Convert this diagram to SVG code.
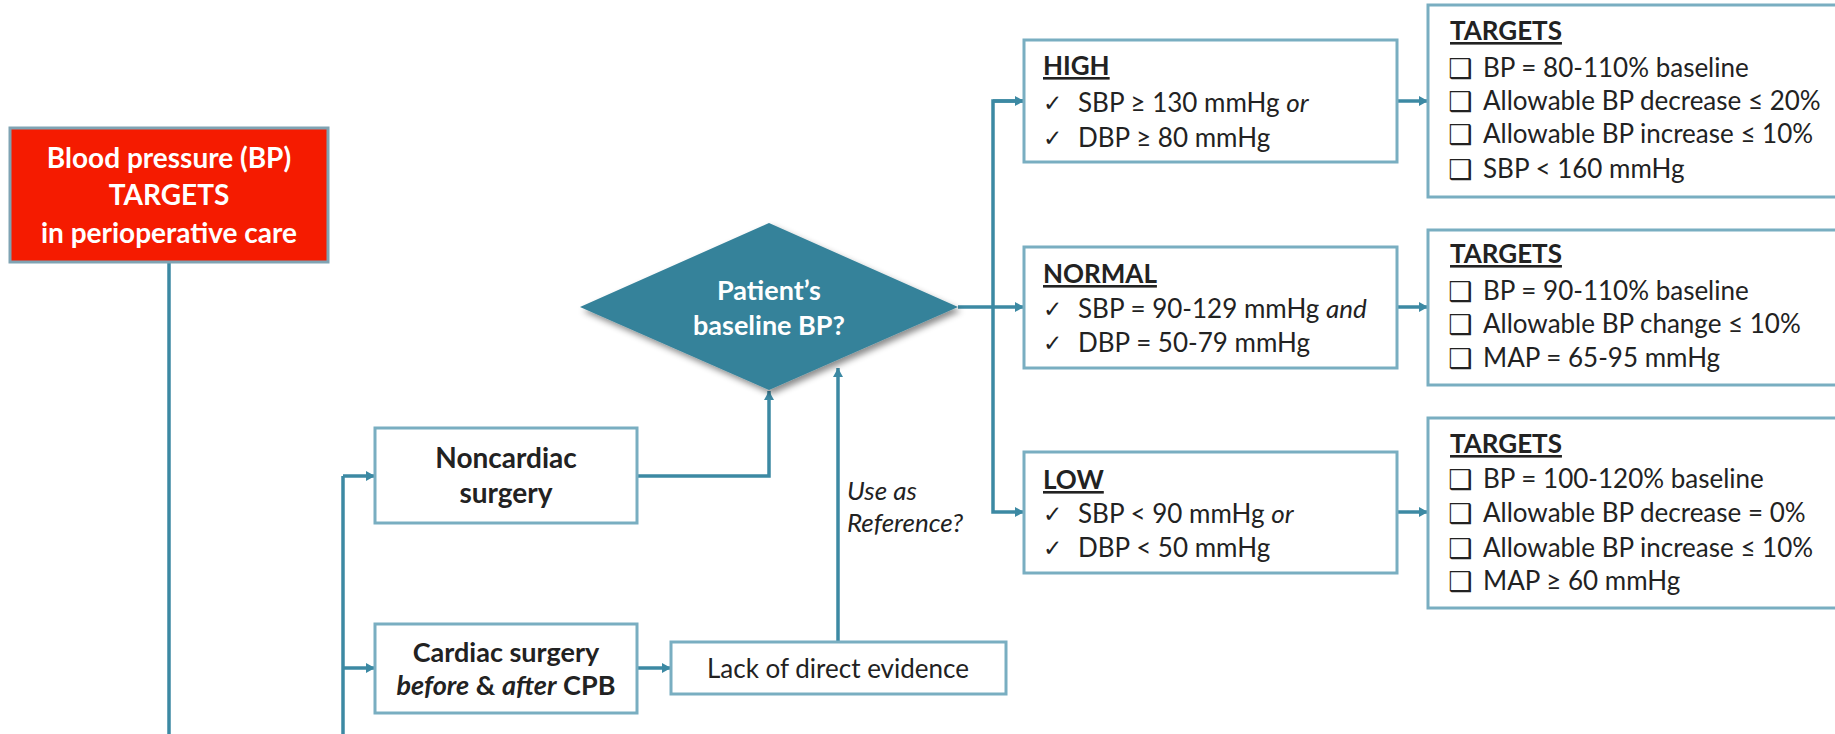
<svg xmlns="http://www.w3.org/2000/svg" width="1835" height="734" viewBox="0 0 1835 734">
<defs>
<marker id="arr" markerUnits="userSpaceOnUse" markerWidth="10" markerHeight="10" refX="9" refY="5" orient="auto">
<path d="M0,0 L9,5 L0,10 z" fill="#3C89A3"/>
</marker>
<filter id="shadow" x="-10%" y="-10%" width="130%" height="140%">
<feDropShadow dx="3" dy="4" stdDeviation="3" flood-color="#000" flood-opacity="0.45"/>
</filter>
<style>
.box{fill:#fff;stroke:#79AEC1;stroke-width:3}
.conn{fill:none;stroke:#3C89A3;stroke-width:3.5}
.t{font-family:Lato,"Open Sans","Liberation Sans",sans-serif;font-size:26px;fill:#222}
.b{font-weight:bold;font-size:27px}
.w{fill:#fff}
.h{font-weight:bold;text-decoration:underline}
.chk{font-family:"DejaVu Sans",sans-serif;font-size:23px;fill:#222;font-weight:bold}
.sq{font-family:"DejaVu Sans",sans-serif;font-size:27px;fill:#222}
.c{text-anchor:middle}
.i{font-style:italic}
</style>
</defs>
<rect width="1835" height="734" fill="#fff"/>

<g id="connectors">
<path class="conn" d="M169,262 V734"/>
<path class="conn" d="M343,476 V734"/>
<path class="conn" d="M343,476 H375" marker-end="url(#arr)"/>
<path class="conn" d="M343,668 H375" marker-end="url(#arr)"/>
<path class="conn" d="M637,476 H769 V391" marker-end="url(#arr)"/>
<path class="conn" d="M637,668 H671" marker-end="url(#arr)"/>
<path class="conn" d="M838,642 V368" marker-end="url(#arr)"/>
<path class="conn" d="M958,307 H1024" marker-end="url(#arr)"/>
<path class="conn" d="M1024,101 H993 V512 H1024" marker-end="url(#arr)"/>
<path class="conn" d="M993,101 H1024" marker-end="url(#arr)"/>
<path class="conn" d="M1397,101 H1428" marker-end="url(#arr)"/>
<path class="conn" d="M1397,307 H1428" marker-end="url(#arr)"/>
<path class="conn" d="M1397,512 H1428" marker-end="url(#arr)"/>
<text class="t i" x="847" y="500">Use as</text>
<text class="t i" x="847" y="532">Reference?</text>
</g>

<g id="start">
<rect x="10" y="128" width="318" height="134" fill="#F51B00" stroke="#7FA3B3" stroke-width="3"/>
<text class="t b w c" x="169" y="168" style="font-size:28px">Blood pressure (BP)</text>
<text class="t b w c" x="169" y="205" style="font-size:28px">TARGETS</text>
<text class="t b w c" x="169" y="243" style="font-size:28px">in perioperative care</text>
</g>

<g id="decision">
<polygon points="580,307 769,223 958,307 769,390" fill="#36829A" filter="url(#shadow)"/>
<text class="t b w c" x="769" y="300">Patient’s</text>
<text class="t b w c" x="769" y="335">baseline BP?</text>
</g>

<g id="noncardiac">
<rect class="box" x="375" y="428" width="262" height="95"/>
<text class="t b c" x="506" y="468" style="font-size:28px">Noncardiac</text>
<text class="t b c" x="506" y="503" style="font-size:28px">surgery</text>
</g>

<g id="cardiac">
<rect class="box" x="375" y="624" width="262" height="89"/>
<text class="t b c" x="506" y="662">Cardiac surgery</text>
<text class="t b c" x="506" y="695"><tspan class="i">before</tspan> &amp; <tspan class="i">after</tspan> CPB</text>
</g>

<g id="lack">
<rect class="box" x="671" y="642" width="335" height="52"/>
<text class="t c" x="838" y="678">Lack of direct evidence</text>
</g>

<g id="high">
<rect class="box" x="1024" y="40" width="373" height="122"/>
<text class="t h" x="1043" y="75">HIGH</text>
<text class="chk" x="1043" y="111">✓</text>
<text class="t" x="1078" y="112">SBP ≥ 130 mmHg <tspan class="i">or</tspan></text>
<text class="chk" x="1043" y="146">✓</text>
<text class="t" x="1078" y="147">DBP ≥ 80 mmHg</text>
</g>

<g id="normal">
<rect class="box" x="1024" y="247" width="373" height="121"/>
<text class="t h" x="1043" y="283">NORMAL</text>
<text class="chk" x="1043" y="317">✓</text>
<text class="t" x="1078" y="318">SBP = 90-129 mmHg <tspan class="i">and</tspan></text>
<text class="chk" x="1043" y="351">✓</text>
<text class="t" x="1078" y="352">DBP = 50-79 mmHg</text>
</g>

<g id="low">
<rect class="box" x="1024" y="452" width="373" height="121"/>
<text class="t h" x="1043" y="489">LOW</text>
<text class="chk" x="1043" y="522">✓</text>
<text class="t" x="1078" y="523">SBP &lt; 90 mmHg <tspan class="i">or</tspan></text>
<text class="chk" x="1043" y="556">✓</text>
<text class="t" x="1078" y="557">DBP &lt; 50 mmHg</text>
</g>

<g id="targets-high">
<rect class="box" x="1428" y="5" width="420" height="192"/>
<text class="t h" x="1450" y="40">TARGETS</text>
<text class="sq" x="1448" y="78">❑</text>
<text class="t" x="1483" y="77">BP = 80-110% baseline</text>
<text class="sq" x="1448" y="111">❑</text>
<text class="t" x="1483" y="110">Allowable BP decrease ≤ 20%</text>
<text class="sq" x="1448" y="144">❑</text>
<text class="t" x="1483" y="143">Allowable BP increase ≤ 10%</text>
<text class="sq" x="1448" y="179">❑</text>
<text class="t" x="1483" y="178">SBP &lt; 160 mmHg</text>
</g>

<g id="targets-normal">
<rect class="box" x="1428" y="230" width="420" height="155"/>
<text class="t h" x="1450" y="263">TARGETS</text>
<text class="sq" x="1448" y="301">❑</text>
<text class="t" x="1483" y="300">BP = 90-110% baseline</text>
<text class="sq" x="1448" y="334">❑</text>
<text class="t" x="1483" y="333">Allowable BP change ≤ 10%</text>
<text class="sq" x="1448" y="368">❑</text>
<text class="t" x="1483" y="367">MAP = 65-95 mmHg</text>
</g>

<g id="targets-low">
<rect class="box" x="1428" y="418" width="420" height="190"/>
<text class="t h" x="1450" y="453">TARGETS</text>
<text class="sq" x="1448" y="489">❑</text>
<text class="t" x="1483" y="488">BP = 100-120% baseline</text>
<text class="sq" x="1448" y="523">❑</text>
<text class="t" x="1483" y="522">Allowable BP decrease = 0%</text>
<text class="sq" x="1448" y="558">❑</text>
<text class="t" x="1483" y="557">Allowable BP increase ≤ 10%</text>
<text class="sq" x="1448" y="591">❑</text>
<text class="t" x="1483" y="590">MAP ≥ 60 mmHg</text>
</g>
</svg>
